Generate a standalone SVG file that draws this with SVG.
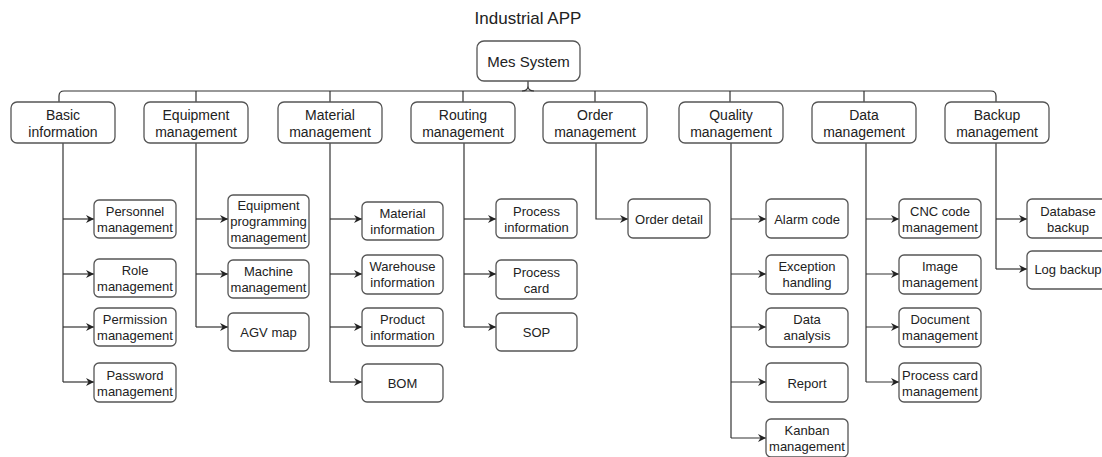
<svg xmlns="http://www.w3.org/2000/svg" width="1102" height="457" viewBox="0 0 1102 457">
<defs>
<marker id="arr" markerUnits="userSpaceOnUse" markerWidth="9" markerHeight="9" refX="8" refY="4" orient="auto">
<path d="M0,0 L8,4 L0,8 L2.5,4 Z" fill="#222"/>
</marker>
<style>
.box{fill:#fff;stroke:#555;stroke-width:1.3}
.t{font-family:"Liberation Sans",Arial,sans-serif;fill:#222;text-anchor:middle}
.t13{font-size:13px}
.t14{font-size:14px}
.ln{fill:none;stroke:#333;stroke-width:1.2}
.ar{fill:none;stroke:#333;stroke-width:1.2;marker-end:url(#arr)}
</style>
</defs>
<rect width="1102" height="457" fill="#fff"/>
<text class="t" x="528" y="24" font-size="17">Industrial APP</text>

<g id="connectors">
<path class="ln" d="M59,102 V96 Q59,91 64,91 H991 Q996,91 996,96 V102"/>
<path class="ln" d="M196,91 V102 M330,91 V102 M463,91 V102 M595,91 V102 M730,91 V102 M864,91 V102"/>
<path class="ln" d="M522,91 Q528,91 528,86 V81 M534,91 Q528,91 528,86"/>
<!-- Basic -->
<path class="ln" d="M63,143 V382"/>
<path class="ar" d="M63,219 H94"/><path class="ar" d="M63,274 H94"/><path class="ar" d="M63,327 H94"/><path class="ar" d="M63,382 H94"/>
<!-- Equipment -->
<path class="ln" d="M196,143 V327"/>
<path class="ar" d="M196,219 H228"/><path class="ar" d="M196,274 H228"/><path class="ar" d="M196,327 H228"/>
<!-- Material -->
<path class="ln" d="M330,143 V382"/>
<path class="ar" d="M330,219 H362"/><path class="ar" d="M330,274 H362"/><path class="ar" d="M330,327 H362"/><path class="ar" d="M330,382 H362"/>
<!-- Routing -->
<path class="ln" d="M464,143 V327"/>
<path class="ar" d="M464,219 H496"/><path class="ar" d="M464,274 H496"/><path class="ar" d="M464,327 H496"/>
<!-- Order -->
<path class="ar" d="M596,143 V219 H628"/>
<!-- Quality -->
<path class="ln" d="M731,143 V438"/>
<path class="ar" d="M731,219 H766"/><path class="ar" d="M731,274 H766"/><path class="ar" d="M731,327 H766"/><path class="ar" d="M731,382 H766"/><path class="ar" d="M731,438 H766"/>
<!-- Data -->
<path class="ln" d="M866,143 V382"/>
<path class="ar" d="M866,219 H899"/><path class="ar" d="M866,274 H899"/><path class="ar" d="M866,327 H899"/><path class="ar" d="M866,382 H899"/>
<!-- Backup -->
<path class="ln" d="M996,143 V269"/>
<path class="ar" d="M996,219 H1027"/><path class="ar" d="M996,269 H1027"/>
</g>

<g id="mes"><rect class="box" x="477" y="41" width="103" height="40" rx="7"/><text class="t" x="528.5" y="66.5" font-size="15">Mes System</text></g>

<g id="basic"><rect class="box" x="11" y="102" width="104" height="41" rx="6"/><text class="t t14" x="63" y="120">Basic</text><text class="t t14" x="63" y="137">information</text></g>
<g id="equipment"><rect class="box" x="144" y="102" width="104" height="41" rx="6"/><text class="t t14" x="196" y="120">Equipment</text><text class="t t14" x="196" y="137">management</text></g>
<g id="material"><rect class="box" x="278" y="102" width="104" height="41" rx="6"/><text class="t t14" x="330" y="120">Material</text><text class="t t14" x="330" y="137">management</text></g>
<g id="routing"><rect class="box" x="411" y="102" width="104" height="41" rx="6"/><text class="t t14" x="463" y="120">Routing</text><text class="t t14" x="463" y="137">management</text></g>
<g id="order"><rect class="box" x="543" y="102" width="104" height="41" rx="6"/><text class="t t14" x="595" y="120">Order</text><text class="t t14" x="595" y="137">management</text></g>
<g id="quality"><rect class="box" x="679" y="102" width="104" height="41" rx="6"/><text class="t t14" x="731" y="120">Quality</text><text class="t t14" x="731" y="137">management</text></g>
<g id="data"><rect class="box" x="812" y="102" width="104" height="41" rx="6"/><text class="t t14" x="864" y="120">Data</text><text class="t t14" x="864" y="137">management</text></g>
<g id="backup"><rect class="box" x="945" y="102" width="104" height="41" rx="6"/><text class="t t14" x="997" y="120">Backup</text><text class="t t14" x="997" y="137">management</text></g>

<g id="personnel"><rect class="box" x="94" y="200" width="82" height="38" rx="5"/><text class="t t13" x="135" y="216">Personnel</text><text class="t t13" x="135" y="232">management</text></g>
<g id="role"><rect class="box" x="94" y="259" width="82" height="38" rx="5"/><text class="t t13" x="135" y="275">Role</text><text class="t t13" x="135" y="291">management</text></g>
<g id="permission"><rect class="box" x="94" y="308" width="82" height="38" rx="5"/><text class="t t13" x="135" y="324">Permission</text><text class="t t13" x="135" y="340">management</text></g>
<g id="password"><rect class="box" x="94" y="363" width="82" height="39" rx="5"/><text class="t t13" x="135" y="380">Password</text><text class="t t13" x="135" y="396">management</text></g>

<g id="equip-prog"><rect class="box" x="228" y="195" width="81" height="53" rx="5"/><text class="t t13" x="268.5" y="209.5">Equipment</text><text class="t t13" x="268.5" y="225.5">programming</text><text class="t t13" x="268.5" y="241.5">management</text></g>
<g id="machine"><rect class="box" x="228" y="260" width="81" height="38" rx="5"/><text class="t t13" x="268.5" y="276">Machine</text><text class="t t13" x="268.5" y="292">management</text></g>
<g id="agv"><rect class="box" x="228" y="313" width="81" height="38" rx="5"/><text class="t t13" x="268.5" y="336.5">AGV map</text></g>

<g id="mat-info"><rect class="box" x="362" y="202" width="81" height="38" rx="5"/><text class="t t13" x="402.5" y="218">Material</text><text class="t t13" x="402.5" y="234">information</text></g>
<g id="warehouse"><rect class="box" x="362" y="255" width="81" height="39" rx="5"/><text class="t t13" x="402.5" y="271">Warehouse</text><text class="t t13" x="402.5" y="287">information</text></g>
<g id="product"><rect class="box" x="362" y="308" width="81" height="38" rx="5"/><text class="t t13" x="402.5" y="324">Product</text><text class="t t13" x="402.5" y="340">information</text></g>
<g id="bom"><rect class="box" x="362" y="364" width="81" height="38" rx="5"/><text class="t t13" x="402.5" y="387.5">BOM</text></g>

<g id="proc-info"><rect class="box" x="496" y="199" width="81" height="39" rx="5"/><text class="t t13" x="536.5" y="216">Process</text><text class="t t13" x="536.5" y="232">information</text></g>
<g id="proc-card"><rect class="box" x="496" y="260" width="81" height="39" rx="5"/><text class="t t13" x="536.5" y="276.5">Process</text><text class="t t13" x="536.5" y="292.5">card</text></g>
<g id="sop"><rect class="box" x="496" y="313" width="81" height="38" rx="5"/><text class="t t13" x="536.5" y="336.5">SOP</text></g>

<g id="order-detail"><rect class="box" x="628" y="199" width="82" height="39" rx="5"/><text class="t t13" x="669" y="223.5">Order detail</text></g>

<g id="alarm"><rect class="box" x="766" y="199" width="82" height="39" rx="5"/><text class="t t13" x="807" y="223.5">Alarm code</text></g>
<g id="exception"><rect class="box" x="766" y="255" width="82" height="39" rx="5"/><text class="t t13" x="807" y="271">Exception</text><text class="t t13" x="807" y="287">handling</text></g>
<g id="analysis"><rect class="box" x="766" y="308" width="82" height="39" rx="5"/><text class="t t13" x="807" y="324">Data</text><text class="t t13" x="807" y="340">analysis</text></g>
<g id="report"><rect class="box" x="766" y="363" width="82" height="39" rx="5"/><text class="t t13" x="807" y="387.5">Report</text></g>
<g id="kanban"><rect class="box" x="766" y="419" width="82" height="38" rx="5"/><text class="t t13" x="807" y="435">Kanban</text><text class="t t13" x="807" y="451">management</text></g>

<g id="cnc"><rect class="box" x="899" y="199" width="82" height="39" rx="5"/><text class="t t13" x="940" y="216">CNC code</text><text class="t t13" x="940" y="232">management</text></g>
<g id="image"><rect class="box" x="899" y="255" width="82" height="39" rx="5"/><text class="t t13" x="940" y="271">Image</text><text class="t t13" x="940" y="287">management</text></g>
<g id="document"><rect class="box" x="899" y="308" width="82" height="39" rx="5"/><text class="t t13" x="940" y="324">Document</text><text class="t t13" x="940" y="340">management</text></g>
<g id="proc-card-mgmt"><rect class="box" x="899" y="363" width="82" height="39" rx="5"/><text class="t t13" x="940" y="380">Process card</text><text class="t t13" x="940" y="396">management</text></g>

<g id="db-backup"><rect class="box" x="1027" y="199" width="82" height="39" rx="5"/><text class="t t13" x="1068" y="216">Database</text><text class="t t13" x="1068" y="232">backup</text></g>
<g id="log-backup"><rect class="box" x="1027" y="251" width="82" height="38" rx="5"/><text class="t t13" x="1068" y="274">Log backup</text></g>
</svg>
